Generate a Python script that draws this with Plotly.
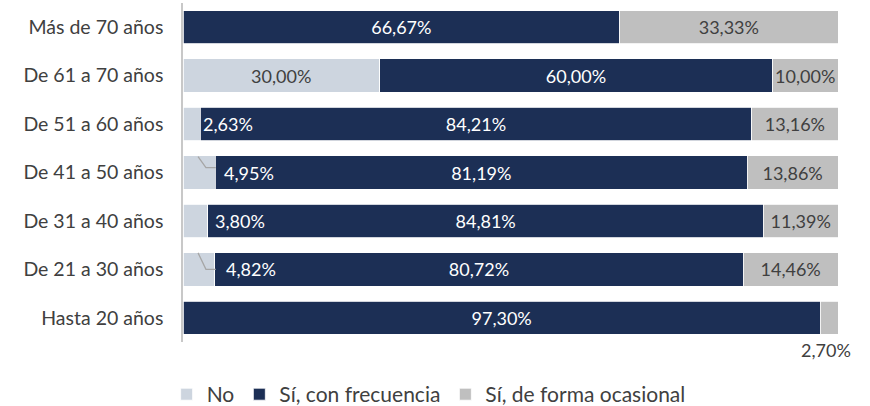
import plotly.graph_objects as go

categories = ["Hasta 20 años", "De 21 a 30 años", "De 31 a 40 años", "De 41 a 50 años",
              "De 51 a 60 años", "De 61 a 70 años", "Más de 70 años"]
no_vals = [0.0, 4.82, 3.80, 4.95, 2.63, 30.00, 0.0]
frec_vals = [97.30, 80.72, 84.81, 81.19, 84.21, 60.00, 66.67]
ocas_vals = [2.70, 14.46, 11.39, 13.86, 13.16, 10.00, 33.33]
series_names = ["No", "Sí, con frecuencia", "Sí, de forma ocasional"]
colors = ["#CDD5DF", "#1C2F55", "#BFBFBF"]

FONT = "Lato, 'Open Sans', sans-serif"

def fmt(v):
    return f"{v:.2f}".replace(".", ",") + "%"

# labels for small "No" values and the tiny occasional value are drawn as annotations
no_text = [fmt(v) if v >= 10 else "" for v in no_vals]
frec_text = [fmt(v) for v in frec_vals]
ocas_text = [fmt(v) if v >= 5 else "" for v in ocas_vals]

fig = go.Figure()
for name, vals, txt, col, tcol in [
    (series_names[0], no_vals, no_text, colors[0], "#404040"),
    (series_names[1], frec_vals, frec_text, colors[1], "#FFFFFF"),
    (series_names[2], ocas_vals, ocas_text, colors[2], "#404040"),
]:
    fig.add_trace(go.Bar(
        y=categories, x=vals, name=name, orientation="h",
        marker=dict(color=col, line=dict(color="#FFFFFF", width=0.8)),
        text=txt, textposition="inside", insidetextanchor="middle",
        textangle=0, constraintext="none",
        textfont=dict(family=FONT, size=18, color=tcol),
        hoverinfo="skip",
    ))

annotations = []
# small "No" labels placed just right inside the navy bar
offsets = {1: 6.3, 2: 4.6, 3: 6.0, 4: 2.7}
for i, off in offsets.items():
    annotations.append(dict(
        x=off, y=i, xref="x", yref="y", text=fmt(no_vals[i]), showarrow=False,
        xanchor="left", yanchor="middle",
        font=dict(family=FONT, size=18, color="#FFFFFF"),
    ))
# 2,70% label below the last bar (just under the plot area)
annotations.append(dict(
    x=98.2, y=-0.024, xref="x", yref="paper", text=fmt(ocas_vals[0]),
    showarrow=False, xanchor="center", yanchor="middle",
    font=dict(family=FONT, size=18, color="#404040"),
))

shapes = []
# leader lines for 4,95% and 4,82%
for i, (y0, y1) in {3: (0.33, 0.10), 1: (0.34, 0.0)}.items():
    shapes.append(dict(
        type="path", xref="x", yref="y",
        path=f"M 2.3 {i + y0} L 3.5 {i + y1} L 5.0 {i + y1}",
        line=dict(color="#A6A6A6", width=1.3),
    ))

fig.update_layout(
    barmode="stack", bargap=0.31,
    width=870, height=406,
    margin=dict(l=183, r=32, t=3, b=64, autoexpand=False),
    paper_bgcolor="#FFFFFF", plot_bgcolor="#FFFFFF",
    font=dict(family=FONT, size=18, color="#404040"),
    xaxis=dict(range=[0, 100], visible=False, fixedrange=True),
    yaxis=dict(range=[-0.5, 6.5], autorange=False, showline=True,
               linecolor="#C8C8C8", linewidth=1.5, ticks="",
               tickfont=dict(family=FONT, size=19.5, color="#404040"),
               ticklabelstandoff=14, showgrid=False, automargin=False,
               fixedrange=True),
    legend=dict(orientation="h", x=0.375, xanchor="center", y=-0.155, yanchor="middle",
                font=dict(family=FONT, size=21, color="#404040"),
                itemwidth=30, traceorder="normal"),
    annotations=annotations, shapes=shapes,
    showlegend=True,
)

fig.write_html("out.html", config={"displayModeBar": False},
               post_script="document.body.style.margin='0';")
